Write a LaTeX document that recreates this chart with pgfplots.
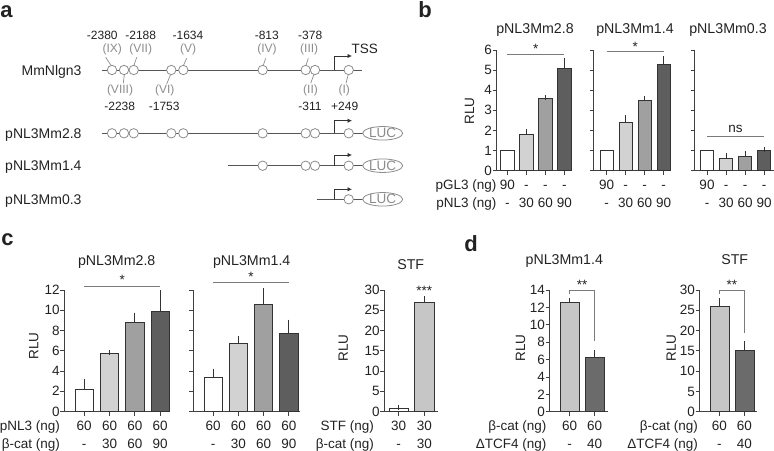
\documentclass[border=0pt]{standalone}
\usepackage{pgfplots}
\pgfplotsset{compat=1.18}
\usepackage{fontspec}
\setmainfont{Liberation Sans}
\usetikzlibrary{arrows.meta,shapes.geometric}

\definecolor{axc}{HTML}{404040}
\definecolor{edgec}{HTML}{333333}
\definecolor{cL}{HTML}{D2D2D2}
\definecolor{cM}{HTML}{A0A0A0}
\definecolor{cD}{HTML}{5E5E5E}
\definecolor{cL2}{HTML}{C6C6C6}
\definecolor{cD2}{HTML}{6B6B6B}
\definecolor{sigc}{HTML}{7A7A7A}
\definecolor{graytxt}{HTML}{8C8C8C}
\definecolor{linec}{HTML}{555555}
\definecolor{txtc}{HTML}{222222}

\newcommand{\fszA}{\fontsize{13.5bp}{15bp}\selectfont}
\newcommand{\fszT}{\fontsize{14.2bp}{16bp}\selectfont}
\newcommand{\fszB}{\fontsize{12bp}{14bp}\selectfont}
\newcommand{\fszL}{\bfseries\fontsize{22bp}{24bp}\selectfont}

\pgfplotsset{
  barax/.style={
    scale only axis, clip=false, anchor=south west,
    axis x line*=bottom, axis y line*=left,
    axis line style={draw=axc, line width=0.8bp},
    tick style={draw=axc, line width=0.8bp},
    tick align=outside, major tick length=4bp,
    xticklabels={}, ymin=0,
    yticklabel style={font=\fszA, text=txtc, inner sep=0.5bp},
    /pgf/number format/assume math mode=true,
  },
  barNE/.style={ybar, bar width=#1, bar shift=0pt, draw=edgec, line width=0.8bp},
  barE/.style={ybar, bar width=#1, bar shift=0pt, draw=edgec, line width=0.8bp,
    /pgfplots/error bars/y dir=plus, /pgfplots/error bars/y explicit,
    /pgfplots/error bars/error bar style={draw=edgec, line width=0.8bp},
    /pgfplots/error bars/error mark options={draw=edgec, line width=0.8bp, mark size=2.6bp}},
  sigline/.style={draw=sigc, line width=0.8bp, no markers},
}
\newcommand{\rv}[3]{\node[font=\fszA, text=txtc, anchor=base, inner sep=0] at (axis cs:#1,0) [yshift=#2] {#3};}
\newcommand{\st}[3]{\node[font=\fszA, text=txtc, anchor=base, inner sep=0] at (axis cs:#1,#2) {#3};}

\begin{document}
\begin{tikzpicture}[font=\fszA, text=txtc]
\useasboundingbox (0,0) rectangle (774bp,-451bp);

% panel labels
\node[font=\fszL, anchor=base, inner sep=0] at (6.5bp,-17bp) {a};
\node[font=\fszL, anchor=base, inner sep=0] at (425bp,-17bp) {b};
\node[font=\fszL, anchor=base, inner sep=0] at (7.5bp,-245bp) {c};
\node[font=\fszL, anchor=base, inner sep=0] at (471bp,-251.7bp) {d};

% ---------------- panel a ----------------
\begin{axis}[at={(0bp,0bp)}, anchor=north west, scale only axis, width=420bp, height=225bp,
  xmin=0, xmax=420, ymin=-225, ymax=0, hide axis, clip=false]
\addplot[linec, line width=0.8bp, no markers] coordinates {(101.7,-70) (362.3,-70)};
\addplot[linec, line width=0.8bp, no markers] coordinates {(101.7,-133.3) (362.7,-133.3)};
\addplot[linec, line width=0.8bp, no markers] coordinates {(228.3,-165.7) (362.7,-165.7)};
\addplot[linec, line width=0.8bp, no markers] coordinates {(316.7,-199.3) (362.7,-199.3)};
\addplot[black!80, line width=0.8bp, no markers, -{Latex[length=4.5bp,width=4.5bp]}] coordinates {(334.3,-70) (334.3,-56) (352,-56)};
\addplot[black!80, line width=0.8bp, no markers, -{Latex[length=4.5bp,width=4.5bp]}] coordinates {(334.3,-133.3) (334.3,-120.7) (352,-120.7)};
\addplot[black!80, line width=0.8bp, no markers, -{Latex[length=4.5bp,width=4.5bp]}] coordinates {(334.3,-165.7) (334.3,-155) (352,-155)};
\addplot[black!80, line width=0.8bp, no markers, -{Latex[length=4.5bp,width=4.5bp]}] coordinates {(334.3,-199.3) (334.3,-189.3) (352,-189.3)};
\addplot[graytxt, line width=0.7bp, no markers, unbounded coords=jump] coordinates {
 (105.7,-57.3) (111,-65.3) (nan,nan)
 (136.7,-57.3) (134,-65.3) (nan,nan)
 (186.7,-58.3) (183.5,-65.3) (nan,nan)
 (265.7,-58.3) (263.3,-65.3) (nan,nan)
 (308.3,-58.3) (306,-65.3) (nan,nan)
 (124.3,-74.7) (123.3,-83.3) (nan,nan)
 (170.5,-74.7) (166.7,-84) (nan,nan)
 (313.8,-74.7) (310.7,-83.3) (nan,nan)
 (348.2,-74.7) (346,-83.3)
};
\addplot[only marks, mark=*, mark size=4.7bp, mark options={fill=white, draw=graytxt, line width=0.8bp}] coordinates {
 (112,-70) (124,-70) (133.7,-70) (171.3,-70) (183.3,-70) (262.7,-70) (305.7,-70) (315,-70) (348.7,-70)
 (112,-133.3) (124,-133.3) (133.7,-133.3) (171.3,-133.3) (183.3,-133.3) (262.7,-133.3) (305.7,-133.3) (315,-133.3) (348.7,-133.3)
 (262.7,-165.7) (305.7,-165.7) (315,-165.7) (348.7,-165.7)
 (348.7,-199.3)
};
\end{axis}
\foreach \yy in {133.3,165.7,199.3}{
  \node[draw=graytxt, line width=0.8bp, ellipse, fill=white, text=graytxt, inner sep=0, outer sep=0,
    minimum width=40bp, minimum height=12.7bp] at (382.7bp,-\yy bp) {LUC};
}
\node[anchor=base east, inner sep=0, font=\fontsize{14bp}{16bp}\selectfont] at (81.7bp,-75bp) {MmNlgn3};
\node[anchor=base east, inner sep=0, font=\fontsize{14bp}{16bp}\selectfont] at (81.7bp,-138.3bp) {pNL3Mm2.8};
\node[anchor=base east, inner sep=0, font=\fontsize{14bp}{16bp}\selectfont] at (81.7bp,-170.7bp) {pNL3Mm1.4};
\node[anchor=base east, inner sep=0, font=\fontsize{14bp}{16bp}\selectfont] at (81.7bp,-204.3bp) {pNL3Mm0.3};
\begin{scope}[every node/.style={font=\fszB, inner sep=0}]
\node at (102.3bp,-35bp) {-2380};
\node at (140.7bp,-35bp) {-2188};
\node at (188bp,-35bp) {-1634};
\node at (266.8bp,-35bp) {-813};
\node at (310.2bp,-35bp) {-378};
\node[text=graytxt] at (112.2bp,-49.3bp) {(IX)};
\node[text=graytxt] at (140.7bp,-49.3bp) {(VII)};
\node[text=graytxt] at (188.2bp,-49.3bp) {(V)};
\node[text=graytxt] at (267bp,-49.3bp) {(IV)};
\node[text=graytxt] at (309.2bp,-49.3bp) {(III)};
\node[text=graytxt] at (120bp,-90.7bp) {(VIII)};
\node[text=graytxt] at (164.7bp,-90.7bp) {(VI)};
\node[text=graytxt] at (310.5bp,-90.7bp) {(II)};
\node[text=graytxt] at (344.2bp,-90.7bp) {(I)};
\node at (119.7bp,-106.7bp) {-2238};
\node at (164.2bp,-106.7bp) {-1753};
\node at (310bp,-106.7bp) {-311};
\node at (344.7bp,-106.7bp) {+249};
\end{scope}
\node[font=\fszA, inner sep=0] at (364.7bp,-49bp) {TSS};

% ---------------- panel b ----------------
\node[font=\fszT, anchor=base, inner sep=0] at (535bp,-33.5bp) {pNL3Mm2.8};
\node[font=\fszT, anchor=base, inner sep=0] at (635bp,-33.5bp) {pNL3Mm1.4};
\node[font=\fszT, anchor=base, inner sep=0] at (728bp,-33.5bp) {pNL3Mm0.3};
\node[font=\fszA, rotate=90, inner sep=0] at (469.5bp,-111bp) {RLU};
\node[font=\fszA, anchor=base east, inner sep=0] at (496.7bp,-189.8bp) {pGL3 (ng)};
\node[font=\fszA, anchor=base east, inner sep=0] at (496.7bp,-207.1bp) {pNL3 (ng)};

\begin{axis}[barax, at={(496.7bp,-170.7bp)}, width=74.3bp, height=120.7bp,
  xmin=-0.56, xmax=3.35, ymax=6, ytick={0,1,...,6}, xtick={0,1,2,3}]
\addplot[fill=white, barNE=0.7] coordinates {(0,1)};
\addplot[fill=cL, barE=0.7] coordinates {(1,1.82) +- (0,0.12)};
\addplot[fill=cM, barE=0.7] coordinates {(2,3.57) +- (0,0.07)};
\addplot[fill=cD, barE=0.7] coordinates {(3,5.11) +- (0,0.35)};
\addplot[sigline] coordinates {(0,5.79) (3,5.79)};
\st{1.5}{5.82}{*}
\rv{0}{-19.1bp}{90}\rv{1}{-19.1bp}{-}\rv{2}{-19.1bp}{-}\rv{3}{-19.1bp}{-}
\rv{0}{-36.4bp}{-}\rv{1}{-36.4bp}{30}\rv{2}{-36.4bp}{60}\rv{3}{-36.4bp}{90}
\end{axis}

\begin{axis}[barax, at={(593.7bp,-170.7bp)}, width=77bp, height=120.7bp,
  xmin=-0.684, xmax=3.37, ymax=6, ytick={0,1,...,6}, yticklabels={}, xtick={0,1,2,3}]
\addplot[fill=white, barNE=0.7] coordinates {(0,1)};
\addplot[fill=cL, barE=0.7] coordinates {(1,2.42) +- (0,0.24)};
\addplot[fill=cM, barE=0.7] coordinates {(2,3.51) +- (0,0.07)};
\addplot[fill=cD, barE=0.7] coordinates {(3,5.3) +- (0,0.26)};
\addplot[sigline] coordinates {(0,5.92) (3,5.92)};
\st{1.5}{5.95}{*}
\rv{0}{-19.1bp}{90}\rv{1}{-19.1bp}{-}\rv{2}{-19.1bp}{-}\rv{3}{-19.1bp}{-}
\rv{0}{-36.4bp}{-}\rv{1}{-36.4bp}{30}\rv{2}{-36.4bp}{60}\rv{3}{-36.4bp}{90}
\end{axis}

\begin{axis}[barax, at={(694.7bp,-170.7bp)}, width=79bp, height=120.7bp,
  xmin=-0.647, xmax=3.51, ymax=6, ytick={0,1,...,6}, yticklabels={}, xtick={0,1,2,3}]
\addplot[fill=white, barNE=0.7] coordinates {(0,1)};
\addplot[fill=cL, barE=0.7] coordinates {(1,0.63) +- (0,0.13)};
\addplot[fill=cM, barE=0.7] coordinates {(2,0.73) +- (0,0.14)};
\addplot[fill=cD, barE=0.7] coordinates {(3,0.99) +- (0,0.08)};
\addplot[sigline] coordinates {(0,1.72) (3,1.72)};
\st{1.5}{1.92}{ns}
\rv{0}{-19.1bp}{90}\rv{1}{-19.1bp}{-}\rv{2}{-19.1bp}{-}\rv{3}{-19.1bp}{-}
\rv{0}{-36.4bp}{-}\rv{1}{-36.4bp}{30}\rv{2}{-36.4bp}{60}\rv{3}{-36.4bp}{90}
\end{axis}

% ---------------- panel c ----------------
\node[font=\fszT, anchor=base, inner sep=0] at (116.7bp,-265bp) {pNL3Mm2.8};
\node[font=\fszT, anchor=base, inner sep=0] at (251.7bp,-265bp) {pNL3Mm1.4};
\node[font=\fszT, anchor=base, inner sep=0] at (410.7bp,-269.5bp) {STF};
\node[font=\fszA, rotate=90, inner sep=0] at (33.8bp,-346bp) {RLU};
\node[font=\fszA, rotate=90, inner sep=0] at (343.3bp,-348bp) {RLU};
\node[font=\fszA, anchor=base east, inner sep=0] at (60bp,-430.5bp) {pNL3 (ng)};
\node[font=\fszA, anchor=base east, inner sep=0] at (60bp,-448.1bp) {β-cat (ng)};
\node[font=\fszA, anchor=base east, inner sep=0] at (374bp,-430.5bp) {STF (ng)};
\node[font=\fszA, anchor=base east, inner sep=0] at (374bp,-448.1bp) {β-cat (ng)};

\begin{axis}[barax, at={(64.3bp,-411.5bp)}, width=105.7bp, height=121.5bp,
  xmin=-0.787, xmax=3.39, ymax=12, ytick={0,2,...,12}, xtick={0,1,2,3}]
\addplot[fill=white, barE=0.72] coordinates {(0,2.2) +- (0,0.8)};
\addplot[fill=cL, barE=0.72] coordinates {(1,5.76) +- (0,0.06)};
\addplot[fill=cM, barE=0.72] coordinates {(2,8.78) +- (0,0.72)};
\addplot[fill=cD, barE=0.72] coordinates {(3,9.87) +- (0,1.87)};
\addplot[sigline] coordinates {(0,12.4) (3,12.4)};
\st{1.5}{12.55}{*}
\rv{0}{-19bp}{60}\rv{1}{-19bp}{60}\rv{2}{-19bp}{60}\rv{3}{-19bp}{60}
\rv{0}{-36.6bp}{-}\rv{1}{-36.6bp}{30}\rv{2}{-36.6bp}{60}\rv{3}{-36.6bp}{90}
\end{axis}

\begin{axis}[barax, at={(193.3bp,-411.5bp)}, width=106.7bp, height=121.5bp,
  xmin=-0.78, xmax=3.44, ymax=12, ytick={0,2,...,12}, yticklabels={}, xtick={0,1,2,3}]
\addplot[fill=white, barE=0.72] coordinates {(0,3.39) +- (0,0.59)};
\addplot[fill=cL, barE=0.72] coordinates {(1,6.68) +- (0,0.56)};
\addplot[fill=cM, barE=0.72] coordinates {(2,10.53) +- (0,1.37)};
\addplot[fill=cD, barE=0.72] coordinates {(3,7.73) +- (0,1.09)};
\addplot[sigline] coordinates {(0,12.72) (3,12.72)};
\st{1.5}{12.85}{*}
\rv{0}{-19bp}{60}\rv{1}{-19bp}{60}\rv{2}{-19bp}{60}\rv{3}{-19bp}{60}
\rv{0}{-36.6bp}{-}\rv{1}{-36.6bp}{30}\rv{2}{-36.6bp}{60}\rv{3}{-36.6bp}{90}
\end{axis}

\begin{axis}[barax, at={(384.3bp,-411.5bp)}, width=54bp, height=121.5bp,
  xmin=-0.565, xmax=1.55, ymax=30, ytick={0,5,...,30}, xtick={0,1}]
\addplot[fill=white, barE=0.765] coordinates {(0,0.8) +- (0,0.1)};
\addplot[fill=cL2, barE=0.765] coordinates {(1,27.0) +- (0,0.8)};
\st{1}{28.7}{***}
\rv{0}{-19bp}{30}\rv{1}{-19bp}{30}
\rv{0}{-36.6bp}{-}\rv{1}{-36.6bp}{30}
\end{axis}

% ---------------- panel d ----------------
\node[font=\fszT, anchor=base, inner sep=0] at (564.3bp,-264.3bp) {pNL3Mm1.4};
\node[font=\fszT, anchor=base, inner sep=0] at (734.7bp,-264.3bp) {STF};
\node[font=\fszA, rotate=90, inner sep=0] at (520.5bp,-348bp) {RLU};
\node[font=\fszA, rotate=90, inner sep=0] at (671.3bp,-348bp) {RLU};
\node[font=\fszA, anchor=base east, inner sep=0] at (546.7bp,-430.5bp) {β-cat (ng)};
\node[font=\fszA, anchor=base east, inner sep=0] at (546.7bp,-448.1bp) {ΔTCF4 (ng)};
\node[font=\fszA, anchor=base east, inner sep=0] at (698bp,-430.5bp) {β-cat (ng)};
\node[font=\fszA, anchor=base east, inner sep=0] at (698bp,-448.1bp) {ΔTCF4 (ng)};

\begin{axis}[barax, at={(549.5bp,-411.7bp)}, width=58.8bp, height=121.7bp,
  xmin=-0.8, xmax=1.55, ymax=14, ytick={0,2,...,14}, xtick={0,1}]
\addplot[fill=cL2, barE=0.76] coordinates {(0,12.6) +- (0,0.15)};
\addplot[fill=cD2, barE=0.76] coordinates {(1,6.2) +- (0,0.6)};
\addplot[sigline] coordinates {(0,13.54) (0,14) (1,14) (1,8.13)};
\st{0.5}{14.05}{**}
\rv{0}{-19bp}{60}\rv{1}{-19bp}{60}
\rv{0}{-36.6bp}{-}\rv{1}{-36.6bp}{40}
\end{axis}

\begin{axis}[barax, at={(699.5bp,-411.7bp)}, width=57.2bp, height=121.7bp,
  xmin=-0.8, xmax=1.49, ymax=30, ytick={0,5,...,30}, xtick={0,1}]
\addplot[fill=cL2, barE=0.76] coordinates {(0,26.0) +- (0,1.3)};
\addplot[fill=cD2, barE=0.76] coordinates {(1,15.2) +- (0,1.6)};
\addplot[sigline] coordinates {(0,29.0) (0,30) (1,30) (1,19.3)};
\st{0.5}{30.1}{**}
\rv{0}{-19bp}{60}\rv{1}{-19bp}{60}
\rv{0}{-36.6bp}{-}\rv{1}{-36.6bp}{40}
\end{axis}

\end{tikzpicture}
\end{document}
